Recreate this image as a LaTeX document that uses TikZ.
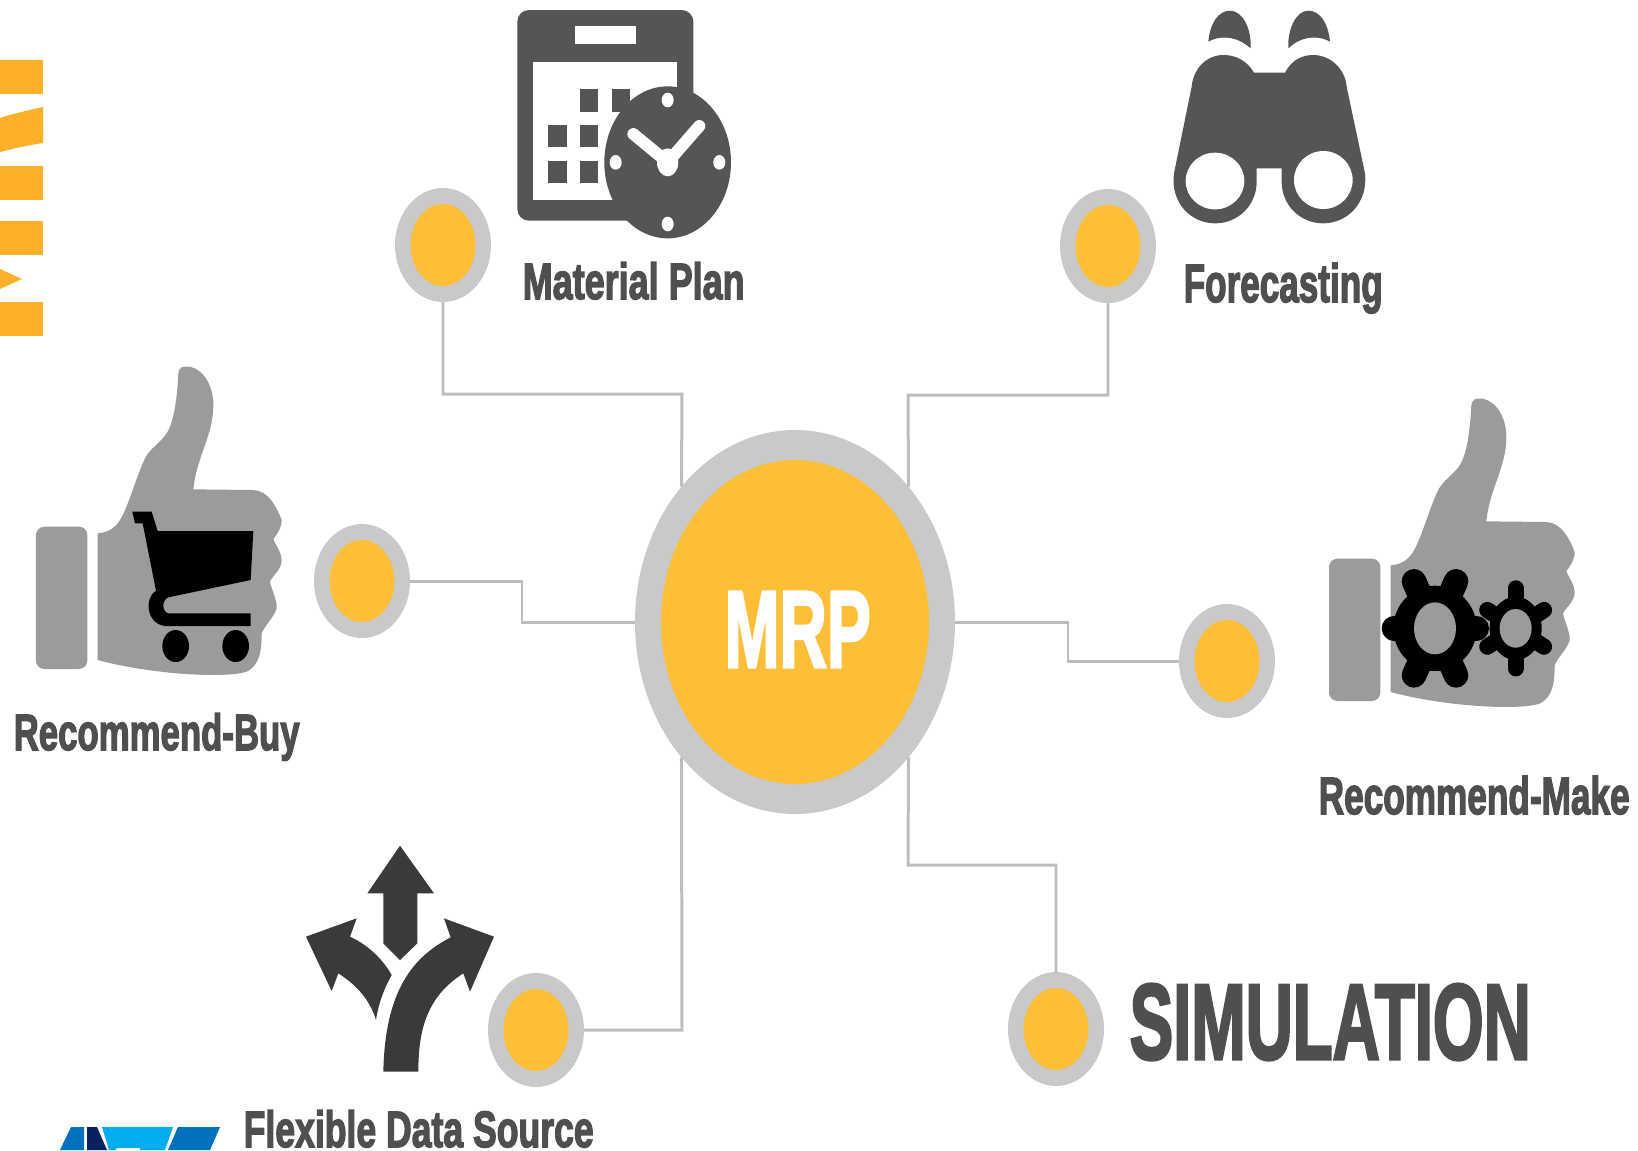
\documentclass[tikz,border=0pt]{standalone}
\usepackage{fontspec}
\usepackage{graphicx}
\setmainfont{Liberation Sans}[BoldFeatures={FakeBold=3}]
\usetikzlibrary{shapes.geometric}
\definecolor{gold}{HTML}{FDBE38}
\definecolor{ring}{HTML}{C9C9C9}
\definecolor{wire}{HTML}{BDBDBD}
\definecolor{icon}{HTML}{555555}
\definecolor{arrowc}{HTML}{3A3A3A}
\definecolor{thumbc}{HTML}{9B9B9B}
\definecolor{labelc}{HTML}{4F4F4F}
\definecolor{stripe}{HTML}{FDB02A}
\definecolor{logoa}{HTML}{0071BC}
\definecolor{logob}{HTML}{0B2060}
\definecolor{logoc}{HTML}{00AEEF}
\newlength{\pxu}\setlength{\pxu}{0.01cm}
\newcommand{\fitlabel}[3]{\resizebox{#1\pxu}{#2\pxu}{\bfseries #3}}
\newcommand{\thumbdraw}{%
  \fill[thumbc,rounded corners=2.4pt] (48,530) rectangle (202,957);
  \fill[thumbc] (233,550) .. controls (262,548) and (285,535) .. (300,510)
    .. controls (325,470) and (345,390) .. (375,325)
    .. controls (390,295) and (420,280) .. (440,250)
    .. controls (465,210) and (472,130) .. (475,70)
    .. controls (477,50) and (490,48) .. (510,50)
    .. controls (555,60) and (582,115) .. (580,170)
    .. controls (578,260) and (530,320) .. (520,418)
    -- (700,420) .. controls (745,422) and (770,470) .. (785,510)
    .. controls (785,535) and (772,550) .. (760,568)
    .. controls (770,590) and (785,610) .. (785,630)
    .. controls (785,660) and (758,675) .. (750,695)
    .. controls (755,720) and (772,750) .. (770,775)
    .. controls (760,805) and (735,825) .. (725,850)
    .. controls (725,900) and (720,945) .. (680,965)
    .. controls (620,985) and (400,975) .. (233,930) -- cycle;}
\tikzset{
  wirepath/.style={draw=wire,line width=0.85pt},
  hubring/.style={ellipse,fill=ring,minimum width=320\pxu,minimum height=384\pxu,inner sep=0pt,outer sep=0pt},
  hubcore/.style={ellipse,fill=gold,minimum width=268\pxu,minimum height=324\pxu,inner sep=0pt,outer sep=0pt},
  dotring/.style={ellipse,fill=ring,minimum width=96\pxu,minimum height=114\pxu,inner sep=0pt,outer sep=0pt},
  dotcore/.style={ellipse,fill=gold,minimum width=65\pxu,minimum height=82\pxu,inner sep=0pt,outer sep=0pt},
  lab/.style={inner sep=0pt,anchor=base west,text=labelc},
  tooth/.style={line cap=round,draw=black}
}
\begin{document}
\begin{tikzpicture}[x=0.01cm,y=-0.01cm]
\useasboundingbox (0,0) rectangle (1638,1150);
\fill[white] (0,0) rectangle (1638,1150);
% stripes at the left edge
\fill[stripe] (0,60) rectangle (43,94);
\fill[stripe] (0,118) .. controls (15,113) and (30,110) .. (43,107) -- (43,143) .. controls (28,145) and (12,149) .. (0,152) -- cycle;
\fill[stripe] (0,166) rectangle (43,200);
\fill[stripe] (0,221) rectangle (43,255);
\fill[stripe] (0,269) -- (22,279) -- (0,289) -- cycle;
\fill[stripe] (0,302) rectangle (43,336);
% logo fragment
\fill[logoa] (60,1150) -- (71,1127) -- (84,1127) -- (84,1150) -- cycle;
\fill[logob] (87,1127) -- (97,1127) -- (107,1150) -- (87,1150) -- cycle;
\fill[logoc] (102,1127) -- (173,1127) -- (165,1150) -- (140,1150) -- (140,1148) -- (117,1148) -- (115,1150) -- (109,1150) -- cycle;
\fill[logoa] (178,1127) -- (220,1127) -- (210,1150) -- (168,1150) -- cycle;
% hub and dots
\node[hubring] (hub) at (795,622) {};
\node[hubcore] (hubcore) at (795,622) {};
\node[dotring] (matdot) at (443,245) {};
\node[dotcore] (matcore) at (443,245) {};
\node[dotring] (foredot) at (1108,246) {};
\node[dotcore] (forecore) at (1108,246) {};
\node[dotring] (buydot) at (362,581) {};
\node[dotcore] (buycore) at (362,581) {};
\node[dotring] (makedot) at (1227,661) {};
\node[dotcore] (makecore) at (1227,661) {};
\node[dotring] (flexdot) at (536,1030) {};
\node[dotcore] (flexcore) at (536,1030) {};
\node[dotring] (simdot) at (1056,1029) {};
\node[dotcore] (simcore) at (1056,1029) {};
% connectors
\coordinate (matknee) at (682,394);
\coordinate (foreknee) at (908,395);
\coordinate (buyknee) at (522,622);
\coordinate (makeknee) at (1068,622);
\coordinate (flexknee) at (682,1030);
\coordinate (simknee) at (908,865);
\draw[wirepath] (matdot.south) |- (matknee) -- (hub.130);
\draw[wirepath] (foredot.south) |- (foreknee) -- (hub.50);
\draw[wirepath] (buydot.east) -| (buyknee) -- (hub.180);
\draw[wirepath] (hub.0) -- (makeknee) |- (makedot.west);
\draw[wirepath] (flexdot.east) -- (flexknee) -- (hub.230);
\draw[wirepath] (simdot.north) |- (simknee) -- (hub.310);
% calendar and clock
\begin{scope}[shift={(490,0)},scale=0.33333]
  \fill[icon,rounded corners=3.3pt] (82,30) rectangle (610,662);
  \fill[white] (254,77) rectangle (437,133);
  \fill[white] (130,187) rectangle (560,600);
  \fill[icon] (270,268) rectangle (325,335);
  \fill[icon] (365,268) rectangle (420,335);
  \fill[icon] (173,375) rectangle (230,442);
  \fill[icon] (270,375) rectangle (325,442);
  \fill[icon] (173,483) rectangle (230,550);
  \fill[icon] (270,483) rectangle (325,550);
  \fill[icon] (533,487) ellipse [x radius=190,y radius=228];
  \fill[white] (533,300) ellipse [x radius=18,y radius=22];
  \fill[white] (377,487) ellipse [x radius=18,y radius=22];
  \fill[white] (688,487) ellipse [x radius=18,y radius=22];
  \fill[white] (533,672) ellipse [x radius=18,y radius=22];
  \fill[white] (533,487) ellipse [x radius=32,y radius=42];
  \draw[white,line width=3.4pt,line cap=round] (430,402) -- (533,487) -- (628,378);
\end{scope}
% binoculars
\begin{scope}[shift={(1150,0)},scale=0.33333]
  \fill[icon] (175,125) .. controls (180,70) and (205,32) .. (240,32) .. controls (280,32) and (305,90) .. (302,145) .. controls (270,115) and (220,100) .. (175,125) -- cycle;
  \fill[icon] (415,145) .. controls (412,90) and (437,32) .. (475,32) .. controls (510,32) and (535,70) .. (540,125) .. controls (495,100) and (445,115) .. (415,145) -- cycle;
  \fill[icon] (312,218) .. controls (290,180) and (255,165) .. (220,165)
    .. controls (170,165) and (130,205) .. (125,260) -- (72,520)
    .. controls (60,610) and (125,670) .. (195,670)
    .. controls (265,670) and (320,615) .. (320,545) -- (320,505) -- (395,505) -- (395,545)
    .. controls (395,615) and (450,670) .. (520,670)
    .. controls (590,670) and (655,610) .. (645,520) -- (590,260)
    .. controls (585,205) and (540,165) .. (490,165)
    .. controls (455,165) and (425,180) .. (405,218) -- cycle;
  \fill[white] (195,543) ellipse [x radius=88,y radius=85];
  \fill[white] (520,540) ellipse [x radius=88,y radius=87];
\end{scope}
% thumb with cart
\begin{scope}[shift={(20,350)},scale=0.33333]
  \thumbdraw
  \fill[black] (337,485) -- (395,485) -- (413,543) -- (700,543) -- (692,690) -- (445,742)
    .. controls (425,750) and (425,785) .. (445,790) -- (692,790) -- (692,828) -- (435,828)
    .. controls (375,820) and (375,740) .. (408,722) -- (368,520) -- (345,520) -- cycle;
  \fill[black] (467,888) ellipse [x radius=40,y radius=48];
  \fill[black] (647,888) ellipse [x radius=40,y radius=48];
\end{scope}
% thumb with gears
\begin{scope}[shift={(1313,382)},scale=0.33333]
  \thumbdraw
\end{scope}
\begin{scope}[shift={(1310,380)},scale=0.33333]
  \fill[black] (375,745) ellipse [x radius=125,y radius=128];
  \foreach \tx/\ty in {252/745,500/745,312/604,438/604,312/886,438/886}
    \draw[tooth,line width=7pt] (375,745) -- (\tx,\ty);
  \fill[thumbc] (375,745) ellipse [x radius=63,y radius=78];
  \fill[black] (617,745) ellipse [x radius=78,y radius=95];
  \foreach \tx/\ty in {617/625,617/865,532/690,702/690,532/800,702/800}
    \draw[tooth,line width=4.6pt] (617,745) -- (\tx,\ty);
  \fill[thumbc] (617,745) ellipse [x radius=48,y radius=58];
\end{scope}
% three arrows
\begin{scope}[shift={(290,830)},scale=0.33333]
  \fill[arrowc] (330,47) -- (432,190) -- (382,190) -- (382,340) -- (330,390) -- (280,340) -- (280,190) -- (232,190) -- cycle;
  \fill[arrowc] (48,320) -- (200,265) -- (180,320) .. controls (235,345) and (280,390) .. (305,435)
    .. controls (285,470) and (265,520) .. (258,570) .. controls (240,510) and (200,465) .. (145,430) -- (125,483) -- cycle;
  \fill[arrowc] (612,320) -- (462,265) -- (482,322) .. controls (370,380) and (285,480) .. (280,725) -- (385,725)
    .. controls (385,600) and (410,500) .. (520,430) -- (540,485) -- cycle;
\end{scope}
% labels
\node[lab] (lmat) at (522,299) {\fitlabel{222}{37}{Material Plan}};
\node[lab] (lfor) at (1183,302) {\fitlabel{199}{39}{Forecasting}};
\node[lab] (lbuy) at (13,750) {\fitlabel{286}{37}{Recommend-Buy}};
\node[lab] (lmak) at (1318,814) {\fitlabel{311}{38}{Recommend-Make}};
\node[lab] (lflx) at (243,1147) {\fitlabel{350}{37}{Flexible Data Source}};
\node[lab] (lsim) at (1129,1059) {\fitlabel{401}{75}{SIMULATION}};
\node[lab,text=white] (lmrp) at (724,667) {\fitlabel{146}{75}{MRP}};
\end{tikzpicture}
\end{document}
